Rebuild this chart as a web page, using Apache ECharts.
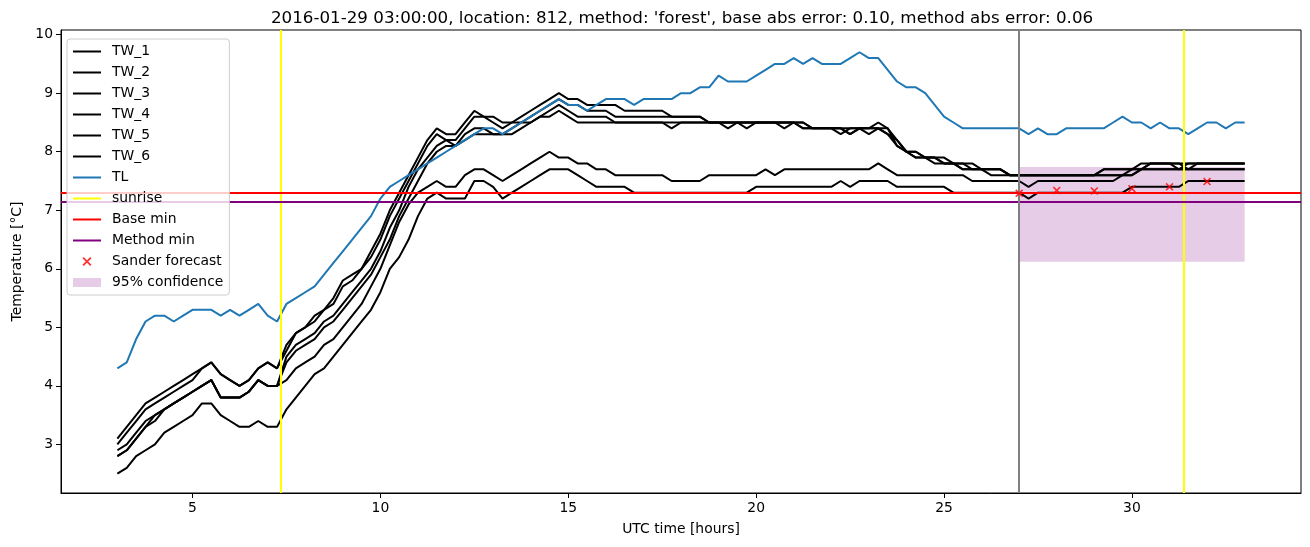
<!DOCTYPE html>
<html><head><meta charset="utf-8">
<script src="https://cdn.jsdelivr.net/npm/echarts@6/dist/echarts.min.js"></script>
<style>html,body{margin:0;padding:0;background:#fff}#c{width:1310px;height:547px}</style>
</head><body><div id="c"></div>
<script>
const hours = [
 3.0,3.25,3.5,3.75, 4.0,4.25,4.5,4.75, 5.0,5.25,5.5,5.75, 6.0,6.25,6.5,6.75, 7.0,7.25,7.5,7.75,
 8.0,8.25,8.5,8.75, 9.0,9.25,9.5,9.75, 10.0,10.25,10.5,10.75, 11.0,11.25,11.5,11.75, 12.0,12.25,12.5,12.75,
 13.0,13.25,13.5,13.75, 14.0,14.25,14.5,14.75, 15.0,15.25,15.5,15.75, 16.0,16.25,16.5,16.75, 17.0,17.25,17.5,17.75,
 18.0,18.25,18.5,18.75, 19.0,19.25,19.5,19.75, 20.0,20.25,20.5,20.75, 21.0,21.25,21.5,21.75, 22.0,22.25,22.5,22.75,
 23.0,23.25,23.5,23.75, 24.0,24.25,24.5,24.75, 25.0,25.25,25.5,25.75, 26.0,26.25,26.5,26.75, 27.0,27.25,27.5,27.75,
 28.0,28.25,28.5,28.75, 29.0,29.25,29.5,29.75, 30.0,30.25,30.5,30.75, 31.0,31.25,31.5,31.75, 32.0,32.25,32.5,32.75,
 33.0];

const TW_1 = [
 3.1,3.3,3.5,3.7, 3.8,3.9,4.0,4.1, 4.2,4.3,4.4,4.2, 4.1,4.0,4.1,4.3, 4.4,4.3,4.7,4.9,
 5.0,5.2,5.3,5.5, 5.8,5.9,6.0,6.3, 6.6,7.0,7.3,7.6, 7.9,8.2,8.4,8.3, 8.3,8.5,8.7,8.6,
 8.6,8.5,8.5,8.6, 8.7,8.8,8.9,9.0, 8.9,8.9,8.8,8.8, 8.8,8.8,8.7,8.7, 8.7,8.7,8.7,8.6,
 8.6,8.6,8.6,8.5, 8.5,8.5,8.5,8.5, 8.5,8.5,8.5,8.5, 8.5,8.5,8.4,8.4, 8.4,8.4,8.3,8.4,
 8.4,8.5,8.4,8.1, 8.0,8.0,7.9,7.9, 7.8,7.8,7.8,7.7, 7.7,7.7,7.7,7.6, 7.6,7.6,7.6,7.6,
 7.6,7.6,7.6,7.6, 7.6,7.7,7.7,7.7, 7.7,7.8,7.8,7.8, 7.8,7.8,7.8,7.8, 7.8,7.8,7.8,7.8,
 7.8];
const TW_2 = [
 3.0,3.2,3.4,3.6, 3.7,3.8,3.9,4.0, 4.1,4.3,4.4,4.2, 4.1,4.0,4.1,4.3, 4.4,4.3,4.6,4.9,
 5.0,5.1,5.3,5.4, 5.7,5.8,6.0,6.2, 6.5,6.9,7.2,7.5, 7.8,8.1,8.3,8.2, 8.2,8.4,8.6,8.6,
 8.5,8.4,8.5,8.5, 8.6,8.7,8.8,8.9, 8.8,8.8,8.7,8.7, 8.7,8.6,8.6,8.6, 8.6,8.6,8.6,8.6,
 8.6,8.6,8.6,8.5, 8.5,8.5,8.5,8.5, 8.5,8.5,8.5,8.4, 8.5,8.4,8.4,8.4, 8.4,8.3,8.4,8.4,
 8.4,8.4,8.3,8.1, 8.0,7.9,7.9,7.8, 7.8,7.8,7.7,7.7, 7.7,7.7,7.7,7.6, 7.6,7.6,7.6,7.6,
 7.6,7.6,7.6,7.6, 7.6,7.6,7.6,7.6, 7.7,7.7,7.8,7.8, 7.8,7.8,7.7,7.8, 7.8,7.8,7.8,7.8,
 7.8];
const TW_3 = [
 2.9,3.0,3.2,3.4, 3.5,3.6,3.7,3.8, 3.9,4.0,4.1,3.8, 3.8,3.8,3.9,4.1, 4.0,4.0,4.5,4.7,
 4.8,4.9,5.1,5.2, 5.4,5.6,5.8,6.0, 6.3,6.7,7.0,7.4, 7.7,7.9,8.1,8.2, 8.1,8.3,8.4,8.4,
 8.3,8.3,8.4,8.5, 8.5,8.6,8.7,8.8, 8.7,8.6,8.6,8.6, 8.6,8.5,8.5,8.5, 8.5,8.5,8.5,8.5,
 8.5,8.5,8.5,8.5, 8.5,8.4,8.5,8.5, 8.5,8.5,8.5,8.5, 8.5,8.5,8.4,8.4, 8.4,8.4,8.3,8.4,
 8.4,8.4,8.3,8.2, 8.0,7.9,7.9,7.9, 7.8,7.8,7.7,7.7, 7.7,7.6,7.6,7.6, 7.6,7.6,7.6,7.6,
 7.6,7.6,7.6,7.6, 7.6,7.7,7.7,7.7, 7.7,7.7,7.7,7.7, 7.7,7.7,7.7,7.7, 7.7,7.7,7.7,7.7,
 7.7];
const TW_4 = [
 2.8,2.9,3.1,3.3, 3.5,3.6,3.7,3.8, 3.9,4.0,4.1,3.8, 3.8,3.8,3.9,4.1, 4.0,4.0,4.4,4.6,
 4.7,4.8,5.0,5.1, 5.3,5.5,5.7,5.9, 6.2,6.5,6.9,7.2, 7.5,7.8,8.0,8.1, 8.1,8.2,8.3,8.3,
 8.3,8.3,8.3,8.4, 8.5,8.6,8.6,8.7, 8.6,8.5,8.5,8.5, 8.5,8.5,8.5,8.5, 8.5,8.5,8.5,8.4,
 8.5,8.5,8.5,8.5, 8.5,8.5,8.5,8.4, 8.5,8.5,8.5,8.5, 8.5,8.4,8.4,8.4, 8.4,8.4,8.4,8.4,
 8.3,8.4,8.4,8.2, 8.0,8.0,7.9,7.9, 7.9,7.8,7.8,7.8, 7.7,7.7,7.7,7.6, 7.6,7.6,7.6,7.6,
 7.6,7.6,7.6,7.6, 7.6,7.6,7.6,7.6, 7.6,7.7,7.8,7.8, 7.8,7.7,7.8,7.8, 7.8,7.8,7.8,7.8,
 7.8];
const TW_5 = [
 2.8,2.9,3.1,3.3, 3.4,3.6,3.7,3.8, 3.9,4.0,4.1,3.8, 3.8,3.8,3.9,4.1, 4.0,4.0,4.1,4.3,
 4.4,4.5,4.7,4.8, 5.0,5.2,5.4,5.7, 6.0,6.4,6.8,7.1, 7.3,7.4,7.5,7.4, 7.4,7.6,7.7,7.7,
 7.6,7.5,7.6,7.7, 7.8,7.9,8.0,7.9, 7.9,7.8,7.8,7.7, 7.7,7.6,7.6,7.6, 7.6,7.6,7.6,7.5,
 7.5,7.5,7.5,7.6, 7.6,7.6,7.6,7.6, 7.6,7.7,7.6,7.7, 7.7,7.7,7.7,7.7, 7.7,7.7,7.7,7.7,
 7.7,7.8,7.7,7.6, 7.6,7.6,7.6,7.6, 7.6,7.6,7.6,7.5, 7.5,7.5,7.5,7.5, 7.5,7.4,7.5,7.5,
 7.5,7.5,7.5,7.5, 7.5,7.5,7.5,7.6, 7.6,7.7,7.7,7.7, 7.7,7.7,7.7,7.7, 7.7,7.7,7.7,7.7,
 7.7];
const TW_6 = [
 2.5,2.6,2.8,2.9, 3.0,3.2,3.3,3.4, 3.5,3.7,3.7,3.5, 3.4,3.3,3.3,3.4, 3.3,3.3,3.6,3.8,
 4.0,4.2,4.3,4.5, 4.7,4.9,5.1,5.3, 5.6,6.0,6.2,6.5, 6.9,7.2,7.3,7.2, 7.2,7.2,7.5,7.5,
 7.4,7.2,7.3,7.4, 7.5,7.6,7.7,7.7, 7.7,7.6,7.5,7.4, 7.4,7.4,7.4,7.3, 7.3,7.3,7.3,7.3,
 7.3,7.3,7.3,7.3, 7.3,7.3,7.3,7.3, 7.4,7.4,7.4,7.4, 7.4,7.4,7.4,7.4, 7.4,7.5,7.4,7.5,
 7.5,7.5,7.5,7.4, 7.4,7.4,7.4,7.4, 7.4,7.3,7.3,7.3, 7.3,7.3,7.3,7.3, 7.3,7.2,7.3,7.3,
 7.3,7.3,7.3,7.3, 7.3,7.3,7.3,7.3, 7.4,7.4,7.4,7.4, 7.4,7.4,7.5,7.5, 7.5,7.5,7.5,7.5,
 7.5];
const TL = [
 4.3,4.4,4.8,5.1, 5.2,5.2,5.1,5.2, 5.3,5.3,5.3,5.2, 5.3,5.2,5.3,5.4, 5.2,5.1,5.4,5.5,
 5.6,5.7,5.9,6.1, 6.3,6.5,6.7,6.9, 7.2,7.4,7.5,7.6, 7.7,7.8,7.9,8.0, 8.1,8.2,8.3,8.4,
 8.4,8.3,8.4,8.5, 8.6,8.7,8.8,8.9, 8.8,8.8,8.7,8.8, 8.9,8.9,8.9,8.8, 8.9,8.9,8.9,8.9,
 9.0,9.0,9.1,9.1, 9.3,9.2,9.2,9.2, 9.3,9.4,9.5,9.5, 9.6,9.5,9.6,9.5, 9.5,9.5,9.6,9.7,
 9.6,9.6,9.4,9.2, 9.1,9.1,9.0,8.8, 8.6,8.5,8.4,8.4, 8.4,8.4,8.4,8.4, 8.4,8.3,8.4,8.3,
 8.3,8.4,8.4,8.4, 8.4,8.4,8.5,8.6, 8.5,8.5,8.4,8.5, 8.4,8.4,8.3,8.4, 8.5,8.5,8.4,8.5,
 8.5];

const sunriseHours = [7.34, 31.37];
const forecastStartHour = [27.0];
const baseMin = [7.3];
const methodMin = [7.14];
const forecastHours = [27, 28, 29, 30, 31, 32];
const forecastValues = [7.29, 7.34, 7.33, 7.37, 7.40, 7.49];
const confHours = [27, 33];
const confRange = [6.12, 7.74];
const xTicks = [5, 10, 15, 20, 25, 30];
const yTicks = [3, 4, 5, 6, 7, 8, 9, 10];

const FONT = 'DejaVu Sans';
const LW = 2;
const twNames = ['TW_1','TW_2','TW_3','TW_4','TW_5','TW_6'];
const twData = [TW_1, TW_2, TW_3, TW_4, TW_5, TW_6];
const zip = (xs, ys) => xs.map((x, i) => [x, ys[i]]);
const noLabel = {show: false};
const XPATH = 'path://M1.4,0L5,3.6L8.6,0L10,1.4L6.4,5L10,8.6L8.6,10L5,6.4L1.4,10L0,8.6L3.6,5L0,1.4Z';
const LINE_ICON = 'path://M0,0L28,0L28,2L0,2Z';

const series = [];
twNames.forEach((n, k) => series.push({
  name: n, type: 'line', data: zip(hours, twData[k]), symbol: 'none', z: 3,
  itemStyle: {color: '#000'}, lineStyle: {color: '#000', width: LW}
}));
series.push({
  name: 'TL', type: 'line', data: zip(hours, TL), symbol: 'none', z: 3,
  itemStyle: {color: '#1f77b4'}, lineStyle: {color: '#1f77b4', width: LW}
});
function vhSeries(name, color, items, z) {
  return {
    name: name, type: 'line', data: [], symbol: 'none', z: z,
    itemStyle: {color: color}, lineStyle: {color: color, width: LW},
    markLine: {silent: true, symbol: ['none','none'], label: noLabel, animation: false,
      lineStyle: {color: color, width: LW, type: 'solid'}, data: items}
  };
}
series.push(vhSeries('sunrise', '#ffff00', sunriseHours.map(h => ({xAxis: h})), 4));
series.push(vhSeries('Base min', '#ff0000', baseMin.map(v => ({yAxis: v})), 4));
series.push(vhSeries('Method min', '#800080', methodMin.map(v => ({yAxis: v})), 4));
series.push(vhSeries('forecast start', '#808080', forecastStartHour.map(h => ({xAxis: h})), 4));
series.push({
  name: 'Sander forecast', type: 'scatter', data: zip(forecastHours, forecastValues),
  symbol: XPATH, symbolSize: 8, z: 5, itemStyle: {color: '#ff0000'}
});
series.push({
  name: '95% confidence', type: 'line', data: [], symbol: 'none', z: 1,
  itemStyle: {color: 'rgba(128,0,128,0.2)'},
  markArea: {silent: true, itemStyle: {color: 'rgba(128,0,128,0.2)'}, label: noLabel,
    data: [[{xAxis: confHours[0], yAxis: confRange[0]}, {xAxis: confHours[1], yAxis: confRange[1]}]]}
});

const axisCommon = {
  type: 'value',
  axisLine: {show: true, onZero: false, lineStyle: {color: '#000', width: 1}},
  splitLine: {show: false},
  nameLocation: 'middle',
  nameTextStyle: {fontFamily: FONT, fontSize: 13.9, color: '#000'}
};

const lineLegend = (n, c) => ({name: n, icon: LINE_ICON, itemStyle: {color: c}});

const option = {
  animation: false,
  backgroundColor: '#fff',
  textStyle: {fontFamily: FONT},
  title: {
    text: "2016-01-29 03:00:00, location: 812, method: 'forest', base abs error: 0.10, method abs error: 0.06",
    left: 271, top: 10, padding: 0,
    textStyle: {fontFamily: FONT, fontSize: 16.7, fontWeight: 'normal', color: '#000'}
  },
  grid: {left: 61, right: 9, top: 30, bottom: 54, show: true, borderColor: '#000', borderWidth: 1,
         containLabel: false, outerBoundsMode: 'none'},
  legend: {
    orient: 'vertical', left: 67, top: 39, z: 10,
    padding: [5, 6, 5, 6], itemGap: 6, itemWidth: 28, itemHeight: 9,
    backgroundColor: 'rgba(255,255,255,0.8)', borderColor: '#cccccc', borderWidth: 1, borderRadius: 3,
    textStyle: {fontFamily: FONT, fontSize: 13.9, color: '#000', lineHeight: 15, padding: [0, 0, 0, 6]},
    data: [
      ...twNames.map(n => lineLegend(n, '#000')),
      lineLegend('TL', '#1f77b4'),
      lineLegend('sunrise', '#ffff00'),
      lineLegend('Base min', '#ff0000'),
      lineLegend('Method min', '#800080'),
      {name: 'Sander forecast', icon: XPATH, itemStyle: {color: '#ff0000'}},
      {name: '95% confidence', icon: 'rect', itemStyle: {color: 'rgba(128,0,128,0.2)'}}
    ],
    selectedMode: false
  },
  xAxis: Object.assign({}, axisCommon, {
    min: 1.5, max: 34.5, name: 'UTC time [hours]', nameGap: 29,
    axisTick: {show: true, customValues: xTicks, length: 5, lineStyle: {color: '#000', width: 1}},
    axisLabel: {customValues: xTicks, color: '#000', fontSize: 13.9, fontFamily: FONT, margin: 8}
  }),
  yAxis: Object.assign({}, axisCommon, {
    min: 2.17, max: 10.08, name: 'Temperature [°C]', nameGap: 35,
    axisTick: {show: true, customValues: yTicks, length: 5, lineStyle: {color: '#000', width: 1}},
    axisLabel: {customValues: yTicks, color: '#000', fontSize: 13.9, fontFamily: FONT, margin: 8}
  }),
  series: series
};

const chart = echarts.init(document.getElementById('c'), null, {renderer: 'canvas'});
chart.setOption(option);
</script>
</body></html>
